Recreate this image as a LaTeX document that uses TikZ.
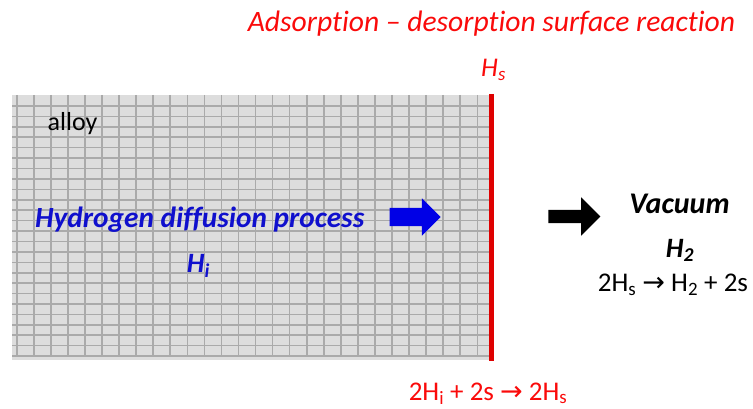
\documentclass[tikz,border=0pt]{standalone}
\usepackage{fontspec}
\setmainfont{Carlito}[Ligatures=NoCommon]
\newfontfamily\arrowfont{DejaVu Sans}
\usetikzlibrary{shapes.arrows}
\definecolor{gridfill}{RGB}{221,221,221}
\definecolor{gridline}{RGB}{170,170,170}
\definecolor{surfred}{RGB}{222,0,0}
\definecolor{txtred}{RGB}{250,10,10}
\definecolor{difblue}{RGB}{15,15,205}
\definecolor{arrblue}{RGB}{0,0,230}
\newcommand{\yields}{{\arrowfont\char"2192}}

\begin{document}
\begin{tikzpicture}[x=1pt, y=-1pt,
  lbl/.style={inner sep=0pt, anchor=base},
  grid line/.style={draw=gridline, line width=1.6pt},
  blockarrow/.style={single arrow, draw=none, fill=#1, inner xsep=0pt,
                     single arrow tip angle=90},
]
\useasboundingbox (0,0) rectangle (753,409);

% alloy block
\fill[gridfill] (12,95) rectangle (490,360);
\foreach \k in {0,...,24}
  \draw[grid line] (12,106+10.42*\k) -- (490,106+10.42*\k);
\foreach \k in {0,...,27}
  \draw[grid line] (16.7+17.06*\k,95) -- (16.7+17.06*\k,357);
\draw[surfred, line width=5pt] (491.5,94) -- (491.5,361);

% labels
\node[lbl, text=txtred, font=\fontsize{29.6}{36}\selectfont\itshape] (title) at (491.5,32)
  {Adsorption -- desorption surface reaction};
\node[lbl, anchor=base west, text=txtred, font=\fontsize{27}{32}\selectfont\itshape] (hs) at (481,77)
  {H\textsubscript{s}};
\node[lbl, anchor=base west, font=\fontsize{26}{30}\selectfont] (alloy) at (47.5,130.7) {alloy};
\node[lbl, anchor=base west, text=difblue, font=\fontsize{29.3}{34}\selectfont\bfseries\itshape] (diff) at (35,227.3)
  {Hydrogen diffusion process};
\node[lbl, anchor=base west, text=difblue, font=\fontsize{28}{32}\selectfont\bfseries\itshape] (hi) at (186.7,272.7)
  {H\textsubscript{i}};
\node[lbl, font=\fontsize{30}{36}\selectfont\bfseries\itshape] (vac) at (679.5,213.3) {Vacuum};
\node[lbl, font=\fontsize{28}{32}\selectfont\bfseries\itshape] (h2) at (680,257.3) {H\textsubscript{2}};
\node[lbl, font=\fontsize{27}{32}\selectfont] (desorb) at (673,291.7)
  {2H\textsubscript{s} \yields{} H\textsubscript{2} + 2s};
\node[lbl, text=txtred, font=\fontsize{27}{32}\selectfont] (adsorb) at (488,400)
  {2H\textsubscript{i} + 2s \yields{} 2H\textsubscript{s}};

% block arrows
\node[blockarrow=arrblue, minimum height=51pt, minimum width=37pt, inner ysep=9pt,
      single arrow head extend=9.5pt] (flow) at (410.5,217) {};
\node[blockarrow=black, minimum height=52pt, minimum width=38pt, inner ysep=6.5pt,
      single arrow head extend=12.5pt] (out) at (571,216.5) {};
\end{tikzpicture}
\end{document}
